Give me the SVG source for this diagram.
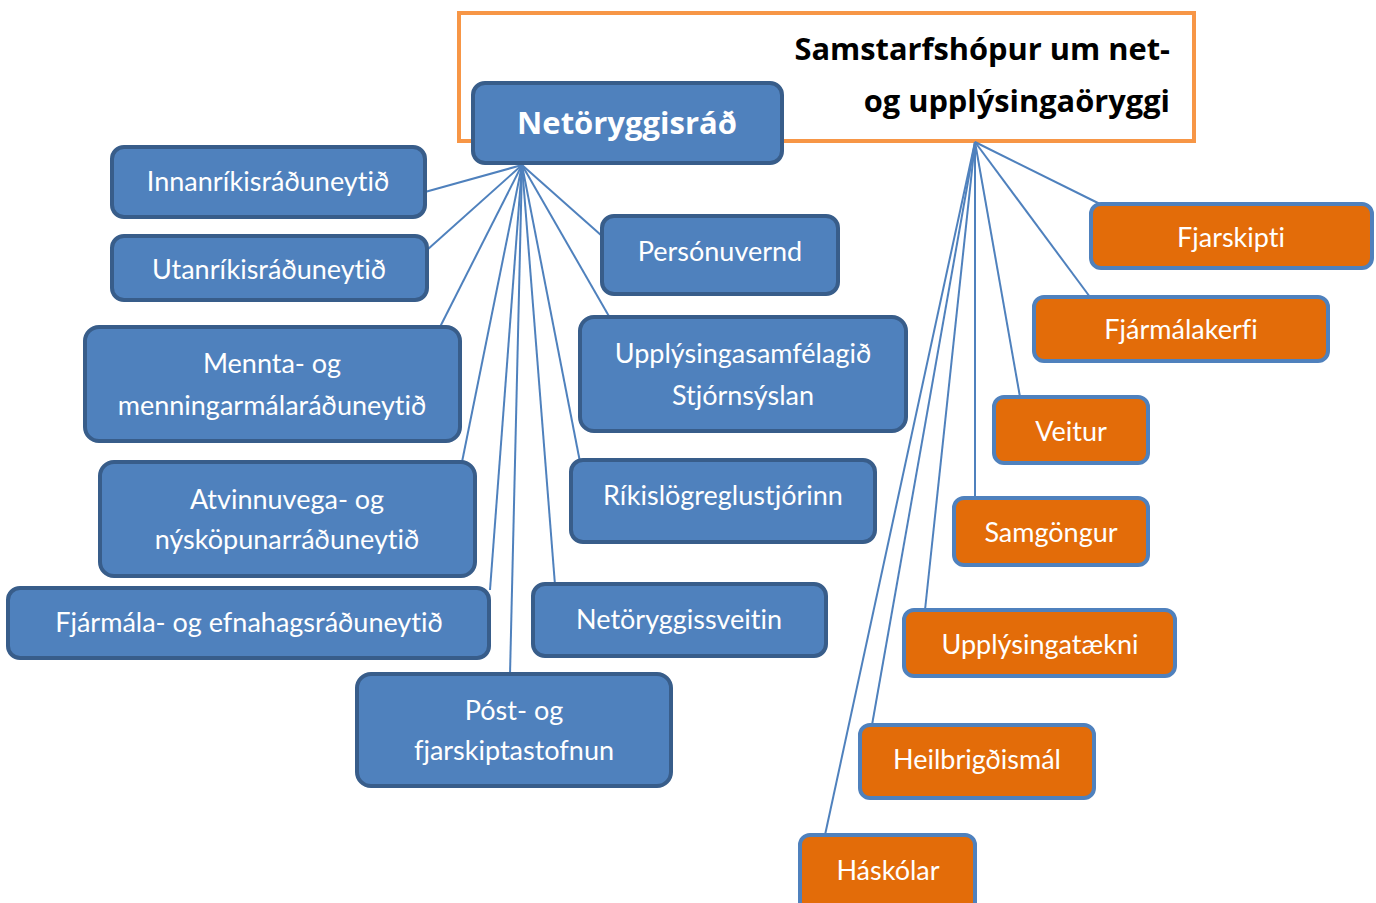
<svg xmlns="http://www.w3.org/2000/svg" width="1376" height="903" viewBox="0 0 1376 903">
<style>
.b{fill:#4F81BD;stroke:#385D8A;stroke-width:4}
.o{fill:#E36C09;stroke:#4F81BD;stroke-width:4}
.t{font-family:Lato,"Open Sans",sans-serif;font-size:27px;fill:#fff;text-anchor:middle;font-variant-ligatures:none}
.c line{stroke:#4F81BD;stroke-width:2}
.h{font-family:"Open Sans",Lato,sans-serif;font-weight:bold;font-size:30.8px;fill:#000;text-anchor:end}
</style>
<rect width="1376" height="903" fill="#fff"/>
<g id="samstarfshopur">
<rect x="459" y="13" width="735" height="128" fill="#fff" stroke="#F79646" stroke-width="4"/>
<text class="h" x="1170" y="60">Samstarfshópur um net-</text>
<text class="h" x="1170" y="112">og upplýsingaöryggi</text>
</g>
<g class="c" id="connectors">
<line x1="522" y1="165" x2="425" y2="192"/>
<line x1="522" y1="165" x2="427" y2="250"/>
<line x1="522" y1="165" x2="440" y2="327"/>
<line x1="522" y1="165" x2="462" y2="462"/>
<line x1="522" y1="165" x2="490" y2="590"/>
<line x1="522" y1="165" x2="510" y2="675"/>
<line x1="522" y1="165" x2="555" y2="585"/>
<line x1="522" y1="165" x2="580" y2="462"/>
<line x1="522" y1="165" x2="610" y2="318"/>
<line x1="522" y1="165" x2="602" y2="236"/>
<line x1="975" y1="142" x2="1100" y2="204"/>
<line x1="975" y1="142" x2="1090" y2="297"/>
<line x1="975" y1="142" x2="1020" y2="397"/>
<line x1="975" y1="142" x2="975" y2="498"/>
<line x1="975" y1="142" x2="925" y2="610"/>
<line x1="975" y1="142" x2="872" y2="725"/>
<line x1="975" y1="142" x2="825" y2="835"/>
</g>
<g id="netoryggisrad">
<rect class="b" x="473" y="83" width="309" height="80" rx="12"/>
<text class="t" x="627" y="134" style="font-weight:bold;font-size:31px;font-family:'Open Sans',Lato,sans-serif">Netöryggisráð</text>
</g>
<g id="innanrikis"><rect class="b" x="112" y="147" width="313" height="70" rx="12"/><text class="t" x="268" y="191">Innanríkisráðuneytið</text></g>
<g id="utanrikis"><rect class="b" x="112" y="236" width="315" height="64" rx="12"/><text class="t" x="269" y="279">Utanríkisráðuneytið</text></g>
<g id="mennta"><rect class="b" x="85" y="327" width="375" height="114" rx="14"/><text class="t" x="272" y="373">Mennta- og</text><text class="t" x="272" y="415">menningarmálaráðuneytið</text></g>
<g id="atvinnuvega"><rect class="b" x="100" y="462" width="375" height="114" rx="14"/><text class="t" x="287" y="509">Atvinnuvega- og</text><text class="t" x="287" y="549">nýsköpunarráðuneytið</text></g>
<g id="fjarmala"><rect class="b" x="8" y="588" width="481" height="70" rx="12"/><text class="t" x="249" y="632">Fjármála- og efnahagsráðuneytið</text></g>
<g id="post"><rect class="b" x="357" y="674" width="314" height="112" rx="14"/><text class="t" x="514" y="720">Póst- og</text><text class="t" x="514" y="760">fjarskiptastofnun</text></g>
<g id="personuvernd"><rect class="b" x="602" y="216" width="236" height="78" rx="12"/><text class="t" x="720" y="261">Persónuvernd</text></g>
<g id="upplysingasamfelagid"><rect class="b" x="580" y="317" width="326" height="114" rx="14"/><text class="t" x="743" y="363">Upplýsingasamfélagið</text><text class="t" x="743" y="405">Stjórnsýslan</text></g>
<g id="rikislogreglustjorinn"><rect class="b" x="571" y="460" width="304" height="82" rx="12"/><text class="t" x="723" y="505">Ríkislögreglustjórinn</text></g>
<g id="netoryggissveitin"><rect class="b" x="533" y="584" width="293" height="72" rx="12"/><text class="t" x="679" y="629">Netöryggissveitin</text></g>
<g id="fjarskipti"><rect class="o" x="1091" y="204" width="281" height="64" rx="10"/><text class="t" x="1231" y="247">Fjarskipti</text></g>
<g id="fjarmalakerfi"><rect class="o" x="1034" y="297" width="294" height="64" rx="10"/><text class="t" x="1181" y="339">Fjármálakerfi</text></g>
<g id="veitur"><rect class="o" x="994" y="397" width="154" height="66" rx="10"/><text class="t" x="1071" y="441">Veitur</text></g>
<g id="samgongur"><rect class="o" x="954" y="498" width="194" height="67" rx="10"/><text class="t" x="1051" y="542">Samgöngur</text></g>
<g id="upplysingataekni"><rect class="o" x="904" y="610" width="271" height="66" rx="10"/><text class="t" x="1040" y="654">Upplýsingatækni</text></g>
<g id="heilbrigdismal"><rect class="o" x="860" y="725" width="234" height="73" rx="10"/><text class="t" x="977" y="769">Heilbrigðismál</text></g>
<g id="haskolar"><rect class="o" x="800" y="835" width="175" height="80" rx="10"/><text class="t" x="888" y="880">Háskólar</text></g>
</svg>
